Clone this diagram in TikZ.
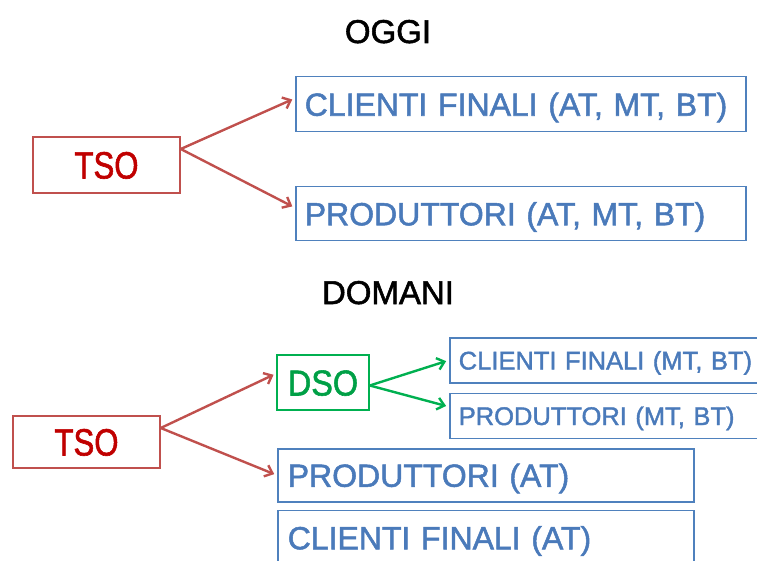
\documentclass[tikz,border=0pt]{standalone}
\usepackage{fontspec}
\setmainfont{Liberation Sans}[FakeBold=1.6]
\usetikzlibrary{positioning, arrows.meta}
\definecolor{boxblue}{RGB}{79,129,189}
\definecolor{txtblue}{RGB}{74,122,186}
\definecolor{arrred}{RGB}{192,80,77}
\definecolor{tsored}{RGB}{192,0,0}
\definecolor{dsogreen}{RGB}{0,176,80}
\definecolor{dsotext}{RGB}{0,160,70}

\begin{document}
\begin{tikzpicture}[
	x=1pt, y=-1pt,
	node distance=6pt,
	lbox/.style={draw=boxblue, line width=1.5pt, text=txtblue, align=left, inner xsep=9pt, inner ysep=0pt, text depth=0pt, anchor=north west},
	bigbox/.style={lbox, font=\fontsize{32}{32}\selectfont, text height=23pt, minimum height=55pt, text width=432pt},
	smallbox/.style={lbox, font=\fontsize{25.5}{26}\selectfont, text height=18.5pt, minimum height=45pt, text width=312pt},
	midbox/.style={lbox, font=\fontsize{32}{32}\selectfont, text height=23pt, minimum height=54pt, text width=396pt, inner xsep=10pt},
	opbox/.style={draw=#1, line width=1.5pt, inner sep=0pt, text depth=0pt},
	title/.style={font=\fontsize{33}{33}\selectfont, text height=24pt, text depth=0pt, inner sep=0pt},
	redarr/.style={draw=arrred, line width=2.4pt, shorten >=3pt, -{Straight Barb[length=7pt,width=12pt]}},
	greenarr/.style={redarr, draw=dsogreen},
]
\useasboundingbox (0,0) rectangle (757,561);

% oggi
\node[title] (oggi) at (388,31) {OGGI};
\node[opbox=arrred, minimum width=147pt, minimum height=56pt, text=tsored, font=\fontsize{38}{38}\selectfont, text height=27pt] (tsoA) at (106.5,165) {\scalebox{0.82}[1]{TSO}};
\node[bigbox] (cliA) at (295,76) {CLIENTI FINALI (AT, MT, BT)};
\node[bigbox, minimum height=54pt] (proA) at (295,186) {PRODUTTORI (AT, MT, BT)};

\draw[redarr] ([yshift=16pt]tsoA.east) -- ([yshift=6pt]cliA.west);
\draw[redarr] ([yshift=16pt]tsoA.east) -- ([yshift=6pt]proA.west);

% domani
\node[title] (domani) at (388,292) {DOMANI};
\node[opbox=arrred, minimum width=147pt, minimum height=52pt, text=tsored, font=\fontsize{38}{38}\selectfont, text height=27pt] (tsoB) at (86.5,442) {\scalebox{0.82}[1]{TSO}};
\node[opbox=dsogreen, minimum width=92pt, minimum height=55pt, text=dsotext, font=\fontsize{36}{36}\selectfont, text height=26pt] (dso) at (323,382.5) {\scalebox{0.9}[1]{DSO}};
\node[smallbox] (cliB) at (449,337) {CLIENTI FINALI (MT, BT)};
\node[smallbox, below=9pt of cliB] (proB) {PRODUTTORI (MT, BT)};
\node[midbox, minimum height=53pt] (proC) at (277,448) {PRODUTTORI (AT)};
\node[midbox, minimum height=55pt, below=7pt of proC] (cliC) {CLIENTI FINALI (AT)};

\draw[redarr] ([yshift=14pt]tsoB.east) -- ([yshift=9pt]dso.west);
\draw[redarr] ([yshift=14pt]tsoB.east) -- (proC.west);
\draw[greenarr] ([yshift=-3pt]dso.east) -- (cliB.west);
\draw[greenarr] ([yshift=-3pt]dso.east) -- ([yshift=9pt]proB.west);
\end{tikzpicture}
\end{document}
